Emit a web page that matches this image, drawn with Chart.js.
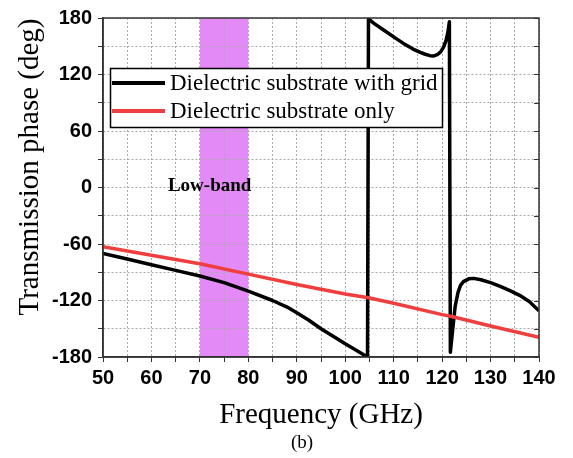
<!DOCTYPE html>
<html>
<head>
<meta charset="utf-8">
<script src="https://cdn.jsdelivr.net/npm/chart.js@4.4.0/dist/chart.umd.min.js"></script>
<style>
    html, body { margin: 0; padding: 0; background: #fff; }
    #wrap { width: 573px; height: 458px; }
</style>
</head>
<body>
<div id="wrap"><canvas id="phaseChart" width="573" height="458"></canvas></div>
<script>
// values
const seriesNames = ['Dielectric substrate with grid', 'Dielectric substrate only'];

const freqGrid = [50, 55, 60, 65, 70, 75, 80, 85, 88, 90, 92.5, 95, 97.5, 100, 102, 104.6,
    104.8, 106, 108, 110, 112, 114, 115.5, 116.5, 117.5, 118.3, 119, 119.7, 120.3, 120.8, 121.2, 121.5,
    121.7, 122.2, 122.7, 123.3, 123.8, 124.4, 125.5, 126.5, 128, 130, 132, 134, 136, 138, 140];
const phaseGrid = [-70, -76, -82, -88, -94, -101, -110, -120, -127, -133, -141, -150, -158, -166, -172, -180,
    179, 174, 167, 160, 153, 147, 143.5, 141.5, 140, 139.7, 141, 144, 149, 156, 165, 176,
    -175, -150, -126, -111, -104, -100, -97, -96.5, -98, -101, -105, -109.5, -114.5, -121, -131];

const freqOnly = [50, 60, 70, 80, 90, 100, 104.8, 110, 120, 122, 130, 140];
const phaseOnly = [-63, -72, -81, -92, -103, -113, -117, -123, -135, -137, -147, -159];

const band = [70, 80];
const bandLabel = 'Low-band';
const bandLabelAt = [63.4, 2];
const yTitle = 'Transmission phase (deg)';
const caption = '(b)';

const toPoints = (xs, ys) => xs.map((x, i) => ({ x: x, y: ys[i] }));

const bandPlugin = {
    id: 'band',
    beforeDraw(chart) {
        const { ctx, chartArea, scales } = chart;
        const x0 = scales.x.getPixelForValue(band[0]);
        const x1 = scales.x.getPixelForValue(band[1]);
        ctx.save();
        ctx.fillStyle = '#e38af7';
        ctx.fillRect(x0, chartArea.top, x1 - x0, chartArea.bottom - chartArea.top);
        ctx.restore();
    },
    afterDraw(chart) {
        const { ctx, chartArea, scales } = chart;
        ctx.save();
        // frame
        ctx.strokeStyle = '#333';
        ctx.lineWidth = 1.5;
        ctx.strokeRect(chartArea.left, chartArea.top, chartArea.right - chartArea.left, chartArea.bottom - chartArea.top);
        // inward ticks on the right edge
        ctx.lineWidth = 1;
        ctx.beginPath();
        scales.y.ticks.forEach(t => {
            const py = Math.round(scales.y.getPixelForValue(t.value)) + 0.5;
            ctx.moveTo(chartArea.right - 5, py);
            ctx.lineTo(chartArea.right, py);
        });
        ctx.stroke();

        // band label
        ctx.fillStyle = '#000';
        ctx.font = 'bold 19px "Liberation Serif"';
        ctx.textBaseline = 'middle';
        ctx.textAlign = 'left';
        ctx.fillText(bandLabel, scales.x.getPixelForValue(bandLabelAt[0]), scales.y.getPixelForValue(bandLabelAt[1]));

        // legend box
        const lx = 110.5, ly = 68.5, lw = 332, lh = 59;
        ctx.fillStyle = '#fff';
        ctx.fillRect(lx, ly, lw, lh);
        ctx.strokeStyle = '#000';
        ctx.lineWidth = 1.5;
        ctx.strokeRect(lx, ly, lw, lh);
        chart.data.datasets.forEach((ds, i) => {
            const yy = 83 + i * 28;
            ctx.strokeStyle = ds.borderColor;
            ctx.lineWidth = 4;
            ctx.beginPath();
            ctx.moveTo(112, yy);
            ctx.lineTo(165, yy);
            ctx.stroke();
            ctx.fillStyle = '#000';
            ctx.font = '23px "Liberation Serif"';
            ctx.fillText(ds.label, 170, yy + 1);
        });

        // y axis title
        ctx.save();
        ctx.translate(30, 167);
        ctx.rotate(-Math.PI / 2);
        ctx.textAlign = 'center';
        ctx.font = '29px "Liberation Serif"';
        ctx.fillText(yTitle, 0, 0);
        ctx.restore();

        // caption
        ctx.textAlign = 'center';
        ctx.font = '19px "Liberation Serif"';
        ctx.fillText(caption, 302, 443);
        ctx.restore();
    }
};

const ctx = document.getElementById('phaseChart').getContext('2d');
new Chart(ctx, {
    type: 'line',
    data: {
        datasets: [
            {
                label: seriesNames[0],
                data: toPoints(freqGrid, phaseGrid),
                borderColor: '#000000',
                borderWidth: 3.5,
                borderJoinStyle: 'round',
                pointRadius: 0,
                tension: 0,
                order: 1
            },
            {
                label: seriesNames[1],
                data: toPoints(freqOnly, phaseOnly),
                borderColor: '#ef3e3e',
                borderWidth: 3.5,
                pointRadius: 0,
                tension: 0,
                order: 0
            }
        ]
    },
    options: {
        responsive: false,
        animation: false,
        layout: { padding: { top: 15, right: 34, bottom: 31, left: 0 } },
        plugins: {
            legend: { display: false },
            tooltip: { enabled: false }
        },
        scales: {
            x: {
                type: 'linear',
                min: 50,
                max: 140,
                afterFit: s => { s.height = 70; },
                ticks: {
                    stepSize: 5,
                    autoSkip: false,
                    maxRotation: 0,
                    padding: 4,
                    color: '#000',
                    font: { family: 'Liberation Sans', size: 20, weight: 'bold' },
                    callback: v => (v % 10 === 0 ? v : '')
                },
                grid: { color: '#aaa', tickColor: '#333', tickLength: 5, tickBorderDash: [] },
                border: { color: '#333', width: 1.5, dash: [2, 2] },
                title: {
                    display: true,
                    text: 'Frequency (GHz)',
                    color: '#000',
                    font: { family: 'Liberation Serif', size: 29 },
                    padding: { top: 0, bottom: -6 }
                }
            },
            y: {
                min: -180,
                max: 180,
                afterFit: s => { s.width = 103; },
                ticks: {
                    stepSize: 30,
                    autoSkip: false,
                    padding: 6,
                    color: '#000',
                    font: { family: 'Liberation Sans', size: 20, weight: 'bold' },
                    callback: v => (v % 60 === 0 ? v : '')
                },
                grid: { color: '#aaa', tickColor: '#333', tickLength: 5, tickBorderDash: [] },
                border: { color: '#333', width: 1.5, dash: [2, 2] },
                title: { display: false }
            }
        }
    },
    plugins: [bandPlugin]
});
</script>
</body>
</html>
